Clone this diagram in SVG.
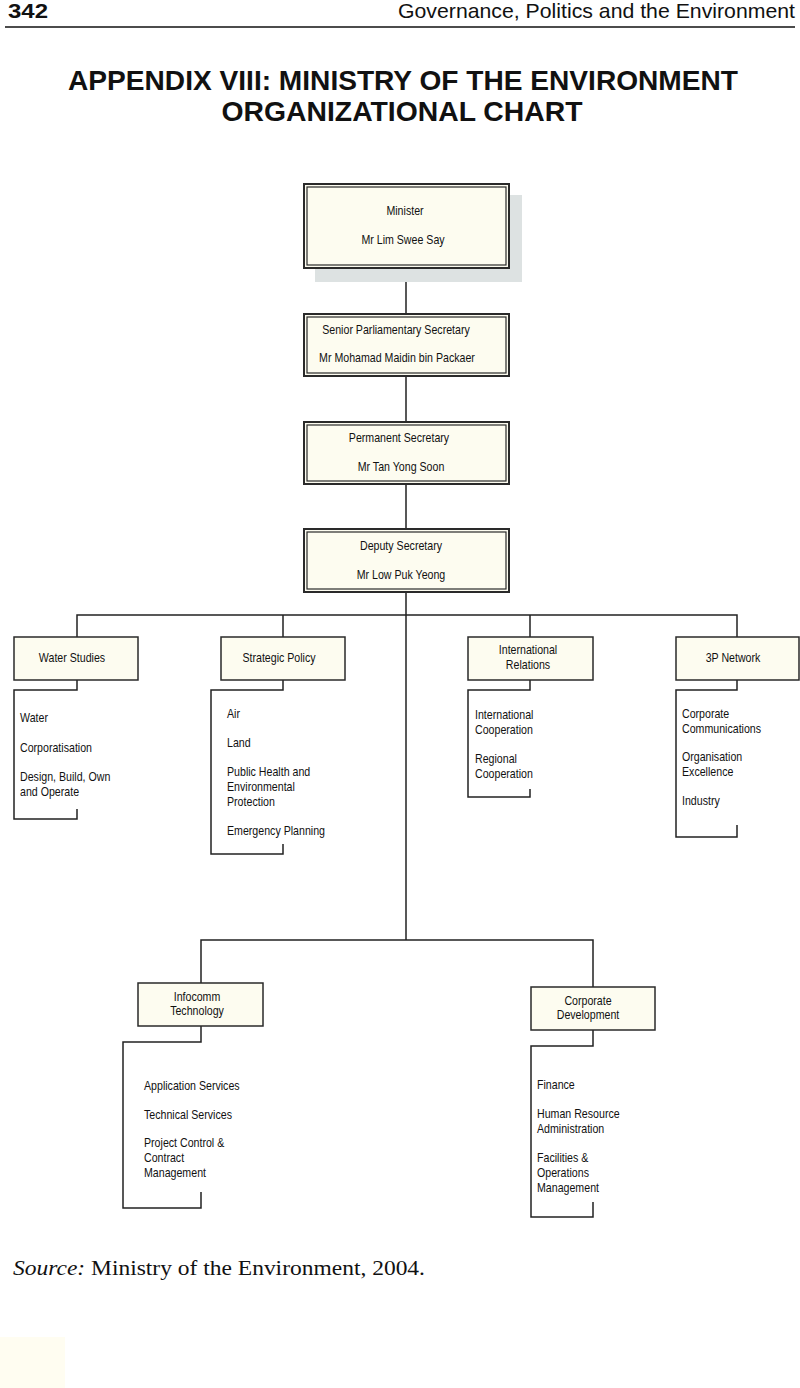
<svg xmlns="http://www.w3.org/2000/svg" width="800" height="1388" viewBox="0 0 800 1388">
<style>
.t{font-family:"Liberation Sans",Arial,sans-serif;font-size:12.5px;fill:#111}
.c{text-anchor:middle}
.box{fill:#fdfcf0;stroke:#2a2a2a;stroke-width:1.5}
.ob{fill:#fdfcf0;stroke:#2a2a2a;stroke-width:2}
.ib{fill:none;stroke:#2a2a2a;stroke-width:1.2}
.ln{fill:none;stroke:#222;stroke-width:1.5}
.hd{font-family:"Liberation Sans",Arial,sans-serif;fill:#111}
</style>
<rect width="800" height="1388" fill="#ffffff"/>
<rect x="0" y="1337" width="65" height="51" fill="#fffdf1"/>
<g id="header">
<text class="hd" x="8" y="18" font-size="21" font-weight="bold" textLength="40" lengthAdjust="spacingAndGlyphs">342</text>
<text class="hd" x="795" y="18" font-size="21" text-anchor="end" textLength="397" lengthAdjust="spacingAndGlyphs">Governance, Politics and the Environment</text>
<line x1="5" y1="27" x2="795" y2="27" stroke="#111" stroke-width="1.3"/>
</g>
<g id="title">
<text class="hd" x="403" y="90" font-size="28" font-weight="bold" text-anchor="middle" textLength="670" lengthAdjust="spacingAndGlyphs">APPENDIX VIII: MINISTRY OF THE ENVIRONMENT</text>
<text class="hd" x="402" y="121" font-size="28" font-weight="bold" text-anchor="middle" textLength="361" lengthAdjust="spacingAndGlyphs">ORGANIZATIONAL CHART</text>
</g>
<g id="connectors">
<path class="ln" d="M406,269V313M406,377V421M406,485V528M406,593V940"/>
<path class="ln" d="M77,637V615H737V637M283,615V637M530,615V637"/>
<path class="ln" d="M201,983V940H593V987"/>
<path class="ln" d="M77,680V690H14V819H77V809"/>
<path class="ln" d="M283,680V690H211V854H283V844"/>
<path class="ln" d="M530,680V690H468V797H530V789"/>
<path class="ln" d="M737,680V690H676V837H737V825"/>
<path class="ln" d="M201,1026V1042H123V1208H201V1192"/>
<path class="ln" d="M593,1030V1046H531V1217H593V1202"/>
</g>
<g id="minister">
<rect x="315" y="195" width="207" height="87" fill="#dde2e2"/>
<rect class="ob" x="304" y="184" width="205" height="84"/>
<rect class="ib" x="307" y="187" width="199" height="78"/>
<text class="t c" transform="translate(405 215) scale(.85 1)">Minister</text>
<text class="t c" transform="translate(403 244) scale(.85 1)">Mr Lim Swee Say</text>
</g>
<g id="sps">
<rect class="ob" x="304" y="314" width="205" height="62"/>
<rect class="ib" x="307" y="317" width="199" height="56"/>
<text class="t c" transform="translate(396 334) scale(.85 1)">Senior Parliamentary Secretary</text>
<text class="t c" transform="translate(397 362) scale(.85 1)">Mr Mohamad Maidin bin Packaer</text>
</g>
<g id="ps">
<rect class="ob" x="304" y="422" width="205" height="62"/>
<rect class="ib" x="307" y="425" width="199" height="56"/>
<text class="t c" transform="translate(399 442) scale(.85 1)">Permanent Secretary</text>
<text class="t c" transform="translate(401 471) scale(.85 1)">Mr Tan Yong Soon</text>
</g>
<g id="ds">
<rect class="ob" x="304" y="529" width="205" height="63"/>
<rect class="ib" x="307" y="532" width="199" height="57"/>
<text class="t c" transform="translate(401 550) scale(.85 1)">Deputy Secretary</text>
<text class="t c" transform="translate(401 579) scale(.85 1)">Mr Low Puk Yeong</text>
</g>
<g id="water-studies">
<rect class="box" x="14" y="637" width="124" height="43"/>
<text class="t c" transform="translate(72 662) scale(.85 1)">Water Studies</text>
<text class="t" transform="translate(20 722) scale(.85 1)">Water</text>
<text class="t" transform="translate(20 752) scale(.85 1)">Corporatisation</text>
<text class="t" transform="translate(20 781) scale(.85 1)">Design, Build, Own</text>
<text class="t" transform="translate(20 796) scale(.85 1)">and Operate</text>
</g>
<g id="strategic-policy">
<rect class="box" x="221" y="637" width="124" height="43"/>
<text class="t c" transform="translate(279 662) scale(.85 1)">Strategic Policy</text>
<text class="t" transform="translate(227 718) scale(.85 1)">Air</text>
<text class="t" transform="translate(227 747) scale(.85 1)">Land</text>
<text class="t" transform="translate(227 776) scale(.85 1)">Public Health and</text>
<text class="t" transform="translate(227 791) scale(.85 1)">Environmental</text>
<text class="t" transform="translate(227 806) scale(.85 1)">Protection</text>
<text class="t" transform="translate(227 835) scale(.85 1)">Emergency Planning</text>
</g>
<g id="international-relations">
<rect class="box" x="468" y="637" width="125" height="43"/>
<text class="t c" transform="translate(528 654) scale(.85 1)">International</text>
<text class="t c" transform="translate(528 669) scale(.85 1)">Relations</text>
<text class="t" transform="translate(475 719) scale(.85 1)">International</text>
<text class="t" transform="translate(475 734) scale(.85 1)">Cooperation</text>
<text class="t" transform="translate(475 763) scale(.85 1)">Regional</text>
<text class="t" transform="translate(475 778) scale(.85 1)">Cooperation</text>
</g>
<g id="3p-network">
<rect class="box" x="676" y="637" width="123" height="43"/>
<text class="t c" transform="translate(733 662) scale(.85 1)">3P Network</text>
<text class="t" transform="translate(682 718) scale(.85 1)">Corporate</text>
<text class="t" transform="translate(682 733) scale(.85 1)">Communications</text>
<text class="t" transform="translate(682 761) scale(.85 1)">Organisation</text>
<text class="t" transform="translate(682 776) scale(.85 1)">Excellence</text>
<text class="t" transform="translate(682 805) scale(.85 1)">Industry</text>
</g>
<g id="infocomm-technology">
<rect class="box" x="138" y="983" width="125" height="43"/>
<text class="t c" transform="translate(197 1001) scale(.85 1)">Infocomm</text>
<text class="t c" transform="translate(197 1015) scale(.85 1)">Technology</text>
<text class="t" transform="translate(144 1090) scale(.85 1)">Application Services</text>
<text class="t" transform="translate(144 1119) scale(.85 1)">Technical Services</text>
<text class="t" transform="translate(144 1147) scale(.85 1)">Project Control &amp;</text>
<text class="t" transform="translate(144 1162) scale(.85 1)">Contract</text>
<text class="t" transform="translate(144 1177) scale(.85 1)">Management</text>
</g>
<g id="corporate-development">
<rect class="box" x="531" y="987" width="124" height="43"/>
<text class="t c" transform="translate(588 1005) scale(.85 1)">Corporate</text>
<text class="t c" transform="translate(588 1019) scale(.85 1)">Development</text>
<text class="t" transform="translate(537 1089) scale(.85 1)">Finance</text>
<text class="t" transform="translate(537 1118) scale(.85 1)">Human Resource</text>
<text class="t" transform="translate(537 1133) scale(.85 1)">Administration</text>
<text class="t" transform="translate(537 1162) scale(.85 1)">Facilities &amp;</text>
<text class="t" transform="translate(537 1177) scale(.85 1)">Operations</text>
<text class="t" transform="translate(537 1192) scale(.85 1)">Management</text>
</g>
<g id="source">
<text x="13" y="1275" font-family="'Liberation Serif','Times New Roman',serif" font-size="22" fill="#111" textLength="412" lengthAdjust="spacingAndGlyphs"><tspan font-style="italic">Source:</tspan> Ministry of the Environment, 2004.</text>
</g>
</svg>
